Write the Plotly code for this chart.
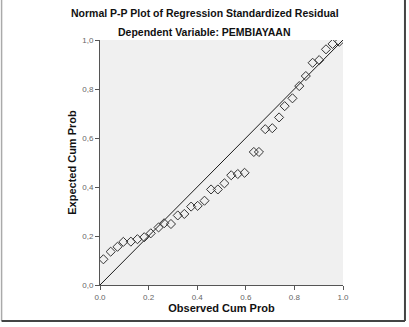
import plotly.graph_objects as go

observed = [0.014, 0.044, 0.072, 0.096, 0.127, 0.154, 0.182, 0.209, 0.241, 0.264,
            0.292, 0.320, 0.347, 0.375, 0.402, 0.430, 0.457, 0.485, 0.512, 0.540,
            0.567, 0.595, 0.633, 0.654, 0.680, 0.709, 0.737, 0.760, 0.792, 0.820,
            0.847, 0.875, 0.902, 0.930, 0.957, 0.985]
expected = [0.105, 0.136, 0.156, 0.176, 0.177, 0.187, 0.195, 0.211, 0.235, 0.252,
            0.249, 0.284, 0.290, 0.320, 0.323, 0.344, 0.390, 0.390, 0.415, 0.448,
            0.453, 0.458, 0.543, 0.543, 0.636, 0.640, 0.684, 0.730, 0.762, 0.812,
            0.853, 0.907, 0.918, 0.962, 0.984, 0.993]
ref_line = [0.0, 1.0]
tick_vals = [0.0, 0.2, 0.4, 0.6, 0.8, 1.0]
x_tick_text = ["0.0", "0.2", "0.4", "0.6", "0.8", "1.0"]
y_tick_text = ["0,0", "0,2", "0,4", "0,6", "0,8", "1,0"]

fig = go.Figure()
fig.add_trace(go.Scatter(x=ref_line, y=ref_line, mode="lines",
                         line=dict(color="#1a1a1a", width=1), hoverinfo="skip"))
fig.add_trace(go.Scatter(x=observed, y=expected, mode="markers",
                         marker=dict(symbol="diamond-open", size=7,
                                     color="#333333", line=dict(width=1))))

font = "Liberation Sans, Arial, sans-serif"
cx = (204.5 - 100) / 243
fig.update_layout(
    width=409, height=327,
    margin=dict(l=100, r=66, t=40, b=42),
    paper_bgcolor="white", plot_bgcolor="#f0f0f0",
    showlegend=False,
    font=dict(family=font, color="#222222"),
    annotations=[
        dict(text="<b>Normal P-P Plot of Regression Standardized Residual</b>",
             xref="paper", yref="paper", x=cx, y=1, yshift=19, xanchor="center",
             yanchor="bottom", showarrow=False,
             font=dict(size=10.5, color="#111111", family=font)),
        dict(text="<b>Dependent Variable: PEMBIAYAAN</b>",
             xref="paper", yref="paper", x=cx, y=1, yshift=0, xanchor="center",
             yanchor="bottom", showarrow=False,
             font=dict(size=10.5, color="#111111", family=font)),
    ],
    shapes=[
        dict(type="line", xref="paper", yref="paper", x0=-0.405, x1=-0.405,
             y0=-0.147, y1=1.2, line=dict(color="#aaaaaa", width=1.5)),
        dict(type="line", xref="paper", yref="paper", x0=1.255, x1=1.255,
             y0=-0.147, y1=1.2, line=dict(color="#444444", width=2)),
        dict(type="line", xref="paper", yref="paper", x0=-0.405, x1=1.255,
             y0=-0.147, y1=-0.147, line=dict(color="#444444", width=2)),
    ],
)
fig.update_xaxes(range=[0, 1], tickvals=tick_vals, ticktext=x_tick_text,
                 showgrid=False, zeroline=False, showline=True, linecolor="#555555",
                 ticks="outside", ticklen=4, tickcolor="#555555",
                 tickfont=dict(size=8, color="#666666"),
                 title=dict(text="<b>Observed Cum Prob</b>", standoff=3,
                            font=dict(size=11, color="#111111")))
fig.update_yaxes(range=[0, 1], tickvals=tick_vals, ticktext=y_tick_text,
                 showgrid=False, zeroline=False, showline=True, linecolor="#555555",
                 ticks="outside", ticklen=4, tickcolor="#555555",
                 tickfont=dict(size=8, color="#666666"),
                 title=dict(text="<b>Expected Cum Prob</b>", standoff=3,
                            font=dict(size=11, color="#111111")))

fig.write_html("out.html")
